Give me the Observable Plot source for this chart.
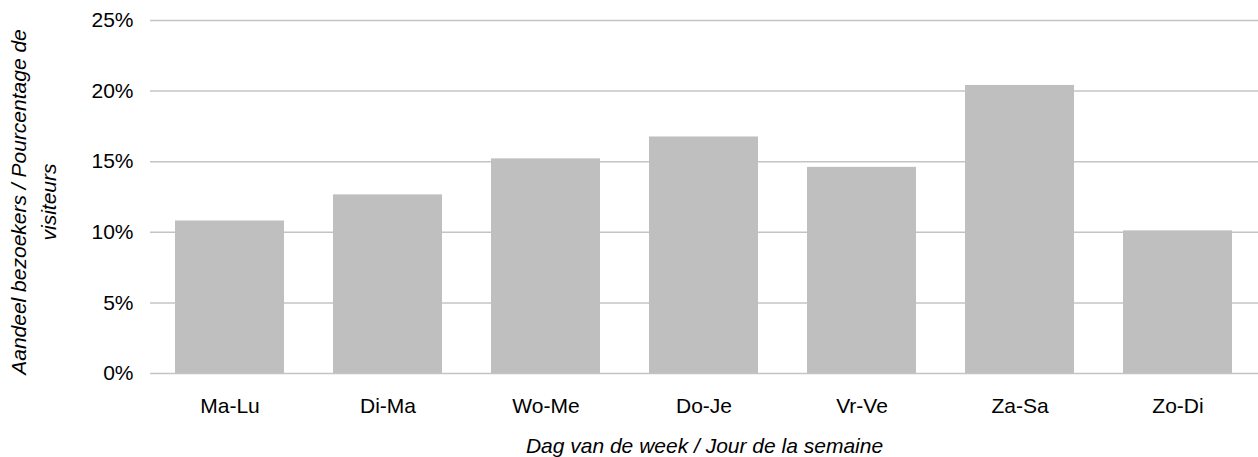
<!DOCTYPE html>
<html>
<head>
<meta charset="utf-8">
<script src="https://cdn.jsdelivr.net/npm/d3@7"></script>
<script src="https://cdn.jsdelivr.net/npm/@observablehq/plot@0.6"></script>
<style>
  html, body { margin: 0; padding: 0; background: #fff; }
  #chart { width: 1258px; height: 457px; }
</style>
</head>
<body>
<div id="chart"></div>
<script>
const days = ["Ma-Lu", "Di-Ma", "Wo-Me", "Do-Je", "Vr-Ve", "Za-Sa", "Zo-Di"];
const shares = [10.8, 12.65, 15.2, 16.75, 14.6, 20.4, 10.1];
const yTicks = [0, 5, 10, 15, 20, 25];
const xTitle = "Dag van de week / Jour de la semaine";
const yTitle = "Aandeel bezoekers / Pourcentage de\nvisiteurs";

const data = days.map((d, i) => ({day: d, share: shares[i]}));

const font = "'Liberation Sans', Arial, sans-serif";

const chart = Plot.plot({
  width: 1258,
  height: 457,
  marginLeft: 150,
  marginRight: 0,
  marginTop: 20,
  marginBottom: 84,
  style: {fontFamily: font, fontSize: "21px", color: "#000", background: "#fff"},
  x: {domain: days, paddingInner: 0.31, paddingOuter: 0.155, label: null},
  y: {domain: [0, 25], label: null},
  marks: [
    Plot.gridY(yTicks, {stroke: "#c4c4c4", strokeOpacity: 1, strokeWidth: 1.5}),
    Plot.barY(data, {x: "day", y: "share", fill: "#bfbfbf"}),
    Plot.axisY(yTicks, {tickSize: 0, tickPadding: 17, tickFormat: d => d + "%", fontSize: 21, fill: "#000", label: null}),
    Plot.axisX({tickSize: 0, tickPadding: 25, fontSize: 21, fill: "#000", label: null}),
    Plot.text([xTitle], {frameAnchor: "bottom", dy: 79, fontSize: 21, fontStyle: "italic", fill: "#000", textAnchor: "middle"}),
    Plot.text([yTitle], {frameAnchor: "left", dx: -119, dy: 5, rotate: -90, fontSize: 21, fontStyle: "italic", fill: "#000", textAnchor: "middle", lineAnchor: "middle", lineHeight: 1.4})
  ]
});
document.getElementById("chart").appendChild(chart);
</script>
</body>
</html>
